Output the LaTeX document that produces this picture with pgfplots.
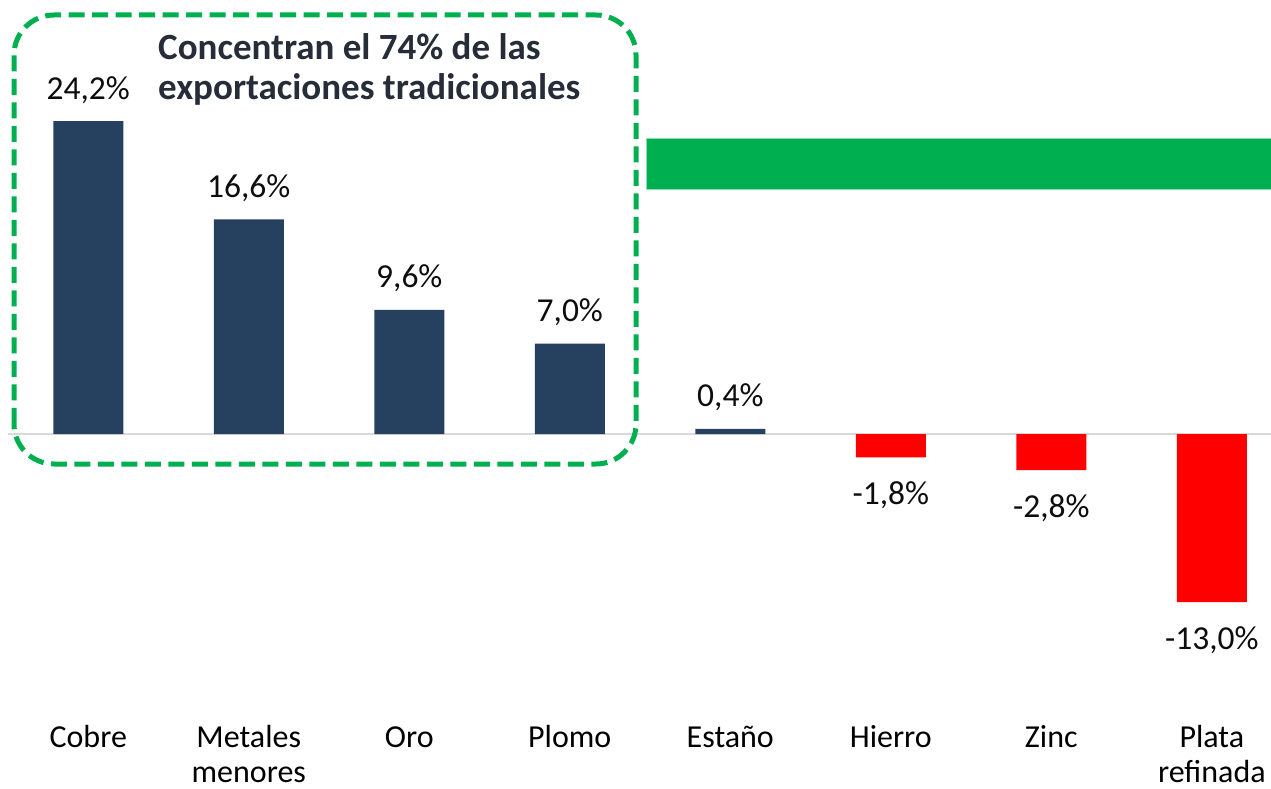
\documentclass[border=0pt]{standalone}
\usepackage{pgfplots}
\pgfplotsset{compat=1.18}
\usepackage{fontspec}
\setmainfont{Carlito}
\definecolor{navy}{RGB}{38,64,96}
\definecolor{exgreen}{RGB}{0,176,80}
\definecolor{zgray}{RGB}{217,217,217}
\definecolor{titlec}{RGB}{38,45,56}
\definecolor{lblc}{RGB}{13,13,13}
\newcommand{\two}[2]{\vtop{\halign{\hfil##\hfil\cr #1\cr #2\cr}}}
\begin{document}
\begin{tikzpicture}
\useasboundingbox (0,0) rectangle (1271pt,788pt);
\fill[exgreen, draw=exgreen!45!white, line width=0.8pt] (646pt,599pt) rectangle (1272pt,650pt);
\begin{axis}[
  at={(8pt,88pt)}, anchor=south west,
  scale only axis, width=1263pt, height=700pt,
  xmin=-0.5, xmax=7.369, ymin=-20.57, ymax=33.57,
  clip=false,
  axis line style={draw=none},
  tick style={draw=none},
  ytick=\empty,
  xtick={0,...,7},
  xticklabels={Cobre,{\two{Metales}{menores}},Oro,Plomo,Estaño,Hierro,Zinc,{\two{Plata}{refinada}}},
  xticklabel style={anchor=base, inner sep=0pt, yshift=-47pt, font=\fontsize{32}{35}\selectfont, text=black},
  /pgf/number format/.cd, use comma, fixed, fixed zerofill, precision=1, assume math mode=true,
]
\draw[zgray, line width=2pt] (axis cs:-0.5,0) -- (axis cs:7.369,0);
\addplot[ybar, bar width=70pt, bar shift=0pt, fill=navy, draw=none,
  point meta=y,
  nodes near coords={\pgfmathprintnumber{\pgfplotspointmeta}\%},
  every node near coord/.append style={anchor=base, yshift=22pt, inner sep=0pt, font=\fontsize{33.5}{40}\selectfont, text=lblc}]
  coordinates {(0,24.2) (1,16.6) (2,9.6) (3,7.0) (4,0.4)};
\addplot[ybar, bar width=70pt, bar shift=0pt, fill=red, draw=none,
  point meta=y,
  nodes near coords={\pgfmathprintnumber{\pgfplotspointmeta}\%},
  every node near coord/.append style={anchor=base, yshift=-47pt, inner sep=0pt, font=\fontsize{33.5}{40}\selectfont, text=lblc}]
  coordinates {(5,-1.8) (6,-2.8) (7,-13.0)};
\end{axis}
\draw[exgreen, line width=5pt, dash pattern=on 16pt off 7.5pt, rounded corners=40pt] (14pt,324pt) rectangle (636pt,773pt);
\node[anchor=base west, inner sep=0pt, font=\bfseries\fontsize{37}{40}\selectfont, text=titlec] at (158pt,728pt) {Concentran el 74\% de las};
\node[anchor=base west, inner sep=0pt, font=\bfseries\fontsize{37}{40}\selectfont, text=titlec] at (158pt,688pt) {exportaciones tradicionales};
\end{tikzpicture}
\end{document}
